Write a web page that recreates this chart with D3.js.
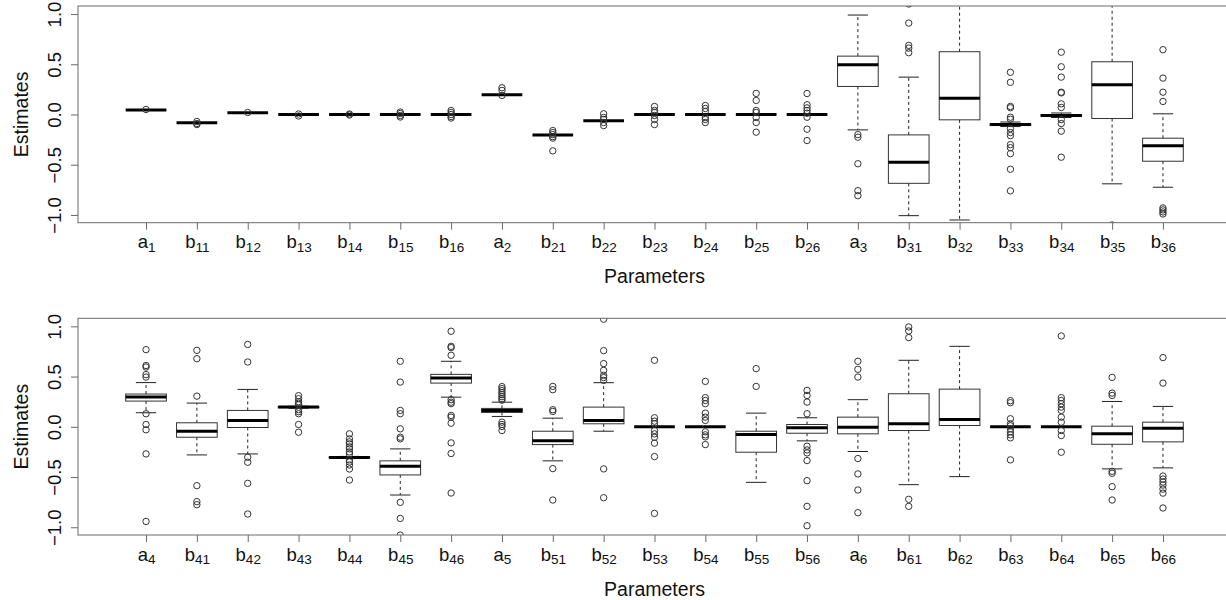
<!DOCTYPE html>
<html>
<head>
<meta charset="utf-8">
<script src="https://cdn.jsdelivr.net/npm/d3@7"></script>
<style>
  body { margin: 0; background: #fff; }
  text { font-family: Arial, "Liberation Sans", sans-serif; fill: #111; }
</style>
</head>
<body>
<div id="chart"></div>
<script>
// ——— DATA —————————————————————————————————————————————————————————
const topLabels = ["a1","b11","b12","b13","b14","b15","b16","a2","b21","b22","b23","b24","b25","b26","a3","b31","b32","b33","b34","b35","b36"];
const botLabels = ["a4","b41","b42","b43","b44","b45","b46","a5","b51","b52","b53","b54","b55","b56","a6","b61","b62","b63","b64","b65","b66"];

// [lower whisker, q1, median, q3, upper whisker]
const topStats = [
  [0.045, 0.045, 0.045, 0.045, 0.045],
  [-0.083, -0.083, -0.083, -0.083, -0.083],
  [0.017, 0.017, 0.017, 0.017, 0.017],
  [0, 0, 0, 0, 0],
  [0, 0, 0, 0, 0],
  [0, 0, 0, 0, 0],
  [0, 0, 0, 0, 0],
  [0.196, 0.196, 0.196, 0.196, 0.196],
  [-0.203, -0.203, -0.203, -0.203, -0.203],
  [-0.063, -0.063, -0.063, -0.063, -0.063],
  [0, 0, 0, 0, 0],
  [0, 0, 0, 0, 0],
  [0, 0, 0, 0, 0],
  [0, 0, 0, 0, 0],
  [-0.153, 0.279, 0.495, 0.581, 0.99],
  [-1.007, -0.685, -0.475, -0.203, 0.372],
  [-1.05, -0.053, 0.163, 0.625, 1.3],
  [-0.12, -0.11, -0.1, -0.09, -0.075],
  [-0.03, -0.02, -0.01, 0.0, 0.015],
  [-0.69, -0.04, 0.296, 0.525, 1.25],
  [-0.724, -0.465, -0.312, -0.236, 0.007]
];
const topOut = [
  [0.05],
  [-0.07, -0.09, -0.1],
  [0.02],
  [0.005, -0.015],
  [0.005, -0.005],
  [0.025, 0.01, -0.01, -0.025],
  [0.04, 0.02, 0.0, -0.02, -0.035],
  [0.266, 0.24, 0.19],
  [-0.16, -0.18, -0.2, -0.22, -0.235, -0.362],
  [0.007, -0.03, -0.05, -0.08, -0.11],
  [0.08, 0.04, 0.02, -0.01, -0.05, -0.1],
  [0.09, 0.06, 0.03, -0.03, -0.05, -0.08],
  [0.21, 0.14, 0.04, 0.02, -0.03, -0.08, -0.176],
  [0.209, 0.097, 0.066, 0.04, 0.013, -0.027, -0.146, -0.259],
  [-0.2, -0.226, -0.49, -0.758, -0.808],
  [1.1, 0.91, 0.688, 0.661, 0.615],
  [],
  [0.42, 0.32, 0.08, 0.067, -0.027, -0.047, -0.14, -0.18, -0.21, -0.3, -0.33, -0.39, -0.545, -0.76],
  [0.62, 0.475, 0.372, 0.222, 0.215, 0.106, 0.07, -0.05, -0.09, -0.166, -0.425],
  [-1.1],
  [0.645, 0.362, 0.222, 0.13, -0.93, -0.95, -0.97, -0.99]
];

const botStats = [
  [0.14, 0.256, 0.296, 0.326, 0.44],
  [-0.28, -0.104, -0.044, 0.04, 0.236],
  [-0.27, -0.007, 0.063, 0.163, 0.372],
  [0.185, 0.19, 0.196, 0.2, 0.205],
  [-0.315, -0.31, -0.305, -0.3, -0.295],
  [-0.679, -0.479, -0.393, -0.339, -0.22],
  [0.295, 0.435, 0.485, 0.522, 0.652],
  [0.103, 0.143, 0.163, 0.183, 0.245],
  [-0.339, -0.177, -0.14, -0.044, 0.086],
  [-0.044, 0.03, 0.063, 0.196, 0.439],
  [0, 0, 0, 0, 0],
  [0, 0, 0, 0, 0],
  [-0.553, -0.253, -0.077, -0.044, 0.136],
  [-0.14, -0.064, -0.01, 0.023, 0.09],
  [-0.246, -0.07, -0.004, 0.096, 0.27],
  [-0.576, -0.037, 0.03, 0.329, 0.662],
  [-0.496, 0.013, 0.073, 0.375, 0.801],
  [0, 0, 0, 0, 0],
  [0, 0, 0, 0, 0],
  [-0.419, -0.174, -0.07, 0.006, 0.252],
  [-0.409, -0.15, -0.014, 0.046, 0.203]
];
const botOut = [
  [0.768, 0.61, 0.595, 0.52, 0.495, 0.13, 0.023, -0.03, -0.27, -0.942],
  [0.761, 0.678, 0.305, -0.586, -0.745, -0.775],
  [0.82, 0.645, -0.303, -0.353, -0.563, -0.868],
  [0.31, 0.28, 0.25, 0.235, 0.22, 0.17, 0.15, 0.13, 0.023, -0.054],
  [-0.07, -0.12, -0.15, -0.17, -0.2, -0.22, -0.25, -0.27, -0.33, -0.35, -0.38, -0.42, -0.53],
  [0.652, 0.445, 0.163, 0.13, -0.02, -0.104, -0.12, -0.752, -0.912, -1.078],
  [0.951, 0.801, 0.788, 0.712, 0.27, 0.245, 0.23, 0.113, 0.096, 0.036, -0.16, -0.266, -0.659],
  [0.40, 0.38, 0.36, 0.34, 0.32, 0.30, 0.28, 0.265, 0.046, 0.023, 0.003, -0.037],
  [0.402, 0.369, 0.17, 0.153, -0.416, -0.729],
  [1.071, 0.758, 0.629, 0.562, 0.512, 0.49, 0.462, -0.419, -0.706],
  [0.662, 0.09, 0.056, 0.03, -0.037, -0.07, -0.104, -0.163, -0.296, -0.862],
  [0.452, 0.29, 0.262, 0.23, 0.136, 0.096, 0.063, -0.05, -0.08, -0.1, -0.177],
  [0.579, 0.402],
  [0.362, 0.312, 0.246, 0.13, -0.193, -0.23, -0.26, -0.336, -0.536, -0.792, -0.985],
  [0.652, 0.572, 0.495, -0.316, -0.469, -0.629, -0.855],
  [0.994, 0.954, 0.888, -0.722, -0.792],
  [],
  [0.26, 0.24, 0.08, 0.03, 0.01, -0.02, -0.05, -0.08, -0.11, -0.329],
  [0.904, 0.29, 0.262, 0.23, 0.196, 0.163, 0.096, 0.046, -0.037, -0.087, -0.253],
  [0.492, 0.335, 0.312, -0.443, -0.463, -0.596, -0.729],
  [0.689, 0.435, -0.49, -0.52, -0.55, -0.58, -0.62, -0.66, -0.808]
];

const yTicks = [-1.0, -0.5, 0.0, 0.5, 1.0];

// ——— LAYOUT ———————————————————————————————————————————————————————
const width = 1226;
const height = 600;
const left = 78;
const right = 1231;
const frameColor = "#6a6a6a";

const svg = d3.select("#chart").append("svg")
    .attr("width", width)
    .attr("height", height);

const xScale = d3.scaleLinear().domain([-1.338, 21.338]).range([left, right]);

function drawPanel(id, labels, stats, outs, top, bottom) {
    const yScale = d3.scaleLinear().domain([-1.077, 1.08]).range([bottom, top]);
    const g = svg.append("g");

    g.append("clipPath").attr("id", id)
        .append("rect")
        .attr("x", left).attr("y", top)
        .attr("width", right - left).attr("height", bottom - top);

    const plot = g.append("g").attr("clip-path", `url(#${id})`);
    const half = xScale(0.4) - xScale(0);
    const cap = xScale(0.2) - xScale(0);

    const boxes = plot.selectAll("g.box")
        .data(stats)
        .enter()
        .append("g")
        .attr("class", "box")
        .attr("transform", (d, i) => `translate(${xScale(i)},0)`);

    // whiskers
    boxes.append("line")
        .attr("x1", 0).attr("x2", 0)
        .attr("y1", (d) => yScale(d[3])).attr("y2", (d) => yScale(d[4]))
        .attr("stroke", "#222").attr("stroke-dasharray", "3,3");
    boxes.append("line")
        .attr("x1", 0).attr("x2", 0)
        .attr("y1", (d) => yScale(d[1])).attr("y2", (d) => yScale(d[0]))
        .attr("stroke", "#222").attr("stroke-dasharray", "3,3");
    // staples
    boxes.selectAll("line.cap")
        .data((d) => [d[0], d[4]])
        .enter()
        .append("line")
        .attr("class", "cap")
        .attr("x1", -cap).attr("x2", cap)
        .attr("y1", (v) => yScale(v)).attr("y2", (v) => yScale(v))
        .attr("stroke", "#222");
    // box
    boxes.append("rect")
        .attr("x", -half)
        .attr("width", 2 * half)
        .attr("y", (d) => yScale(d[3]))
        .attr("height", (d) => yScale(d[1]) - yScale(d[3]))
        .attr("fill", "none")
        .attr("stroke", "#333");
    // median
    boxes.append("line")
        .attr("x1", -half).attr("x2", half)
        .attr("y1", (d) => yScale(d[2])).attr("y2", (d) => yScale(d[2]))
        .attr("stroke", "#000").attr("stroke-width", 3);

    // outliers
    plot.selectAll("g.out")
        .data(outs)
        .enter()
        .append("g")
        .attr("transform", (d, i) => `translate(${xScale(i)},0)`)
        .selectAll("circle")
        .data((d) => d)
        .enter()
        .append("circle")
        .attr("cx", 0)
        .attr("cy", (v) => yScale(v))
        .attr("r", 3.2)
        .attr("fill", "none")
        .attr("stroke", "#333")
        .attr("stroke-width", 1);

    // frame
    g.append("rect")
        .attr("x", left).attr("y", top)
        .attr("width", right - left).attr("height", bottom - top)
        .attr("fill", "none")
        .attr("stroke", frameColor);

    // ——— AXES ——————————————————————————————————————————————————————
    const yaxis = d3.axisLeft(yScale)
        .tickValues(yTicks)
        .tickSize(7)
        .tickFormat(d3.format(".1f"));
    const ya = g.append("g")
        .attr("transform", `translate(${left},0)`)
        .call(yaxis);
    ya.select(".domain").remove();
    ya.selectAll("line").attr("stroke", frameColor);
    ya.selectAll("text")
        .attr("transform", "rotate(-90)")
        .attr("x", 0)
        .attr("y", -17.5)
        .attr("dy", 0)
        .style("text-anchor", "middle")
        .style("font-size", "18.5px")
        .attr("fill", "#111");

    const xaxis = d3.axisBottom(xScale)
        .tickValues(d3.range(labels.length))
        .tickSize(7)
        .tickFormat("");
    const xa = g.append("g")
        .attr("transform", `translate(0,${bottom})`)
        .call(xaxis);
    xa.select(".domain").remove();
    xa.selectAll("line").attr("stroke", frameColor);
    xa.selectAll("text")
        .attr("y", 25.6)
        .attr("dy", 0)
        .style("font-size", "18.5px")
        .attr("fill", "#111")
        .each(function (d) {
            const t = d3.select(this);
            const lab = labels[d];
            t.append("tspan").text(lab[0]);
            t.append("tspan").attr("dy", 3.5).style("font-size", "13.5px").text(lab.slice(1));
        });

    g.append("text")
        .attr("x", (left + right) / 2)
        .attr("y", bottom + 60.7)
        .attr("text-anchor", "middle")
        .style("font-size", "19.5px")
        .text("Parameters");

    g.append("text")
        .attr("transform", `translate(28.3,${(top + bottom) / 2}) rotate(-90)`)
        .attr("text-anchor", "middle")
        .style("font-size", "19.5px")
        .text("Estimates");
}

drawPanel("clipTop", topLabels, topStats, topOut, 6, 222.7);
drawPanel("clipBot", botLabels, botStats, botOut, 318.3, 535);
</script>
</body>
</html>
